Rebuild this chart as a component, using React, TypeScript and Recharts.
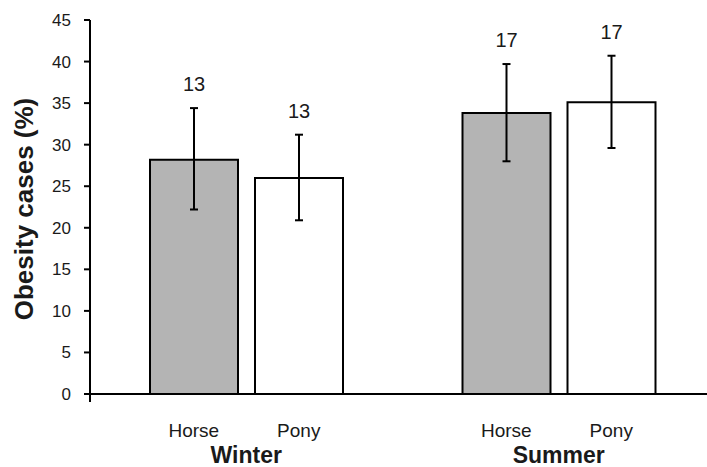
import { BarChart, Bar, XAxis, YAxis, ErrorBar, LabelList } from 'recharts';

const seasons = ['Winter', 'Summer'];
const horseValues = [28.2, 33.8];
const ponyValues = [26.0, 35.1];
const horseErrors: [number, number][] = [[6.0, 6.2], [5.8, 5.9]];
const ponyErrors: [number, number][] = [[5.1, 5.2], [5.5, 5.6]];
const horseCounts = [13, 17];
const ponyCounts = [13, 17];
const yTicks = [0, 5, 10, 15, 20, 25, 30, 35, 40, 45];

const BAR_SIZE = 88;
const BAR_GAP = 17;
const FONT = '"Liberation Sans", Arial, sans-serif';
const TEXT = '#1a1a1a';

const data = seasons.map((season, i) => ({
  season,
  horse: horseValues[i],
  pony: ponyValues[i],
  horseErr: horseErrors[i],
  ponyErr: ponyErrors[i],
  horseN: horseCounts[i],
  ponyN: ponyCounts[i],
}));

// label sits above the top of the error bar
const countLabel = (valueKey: 'horse' | 'pony', errKey: 'horseErr' | 'ponyErr') => (props: any) => {
  const { x, y, width, height, value, index } = props;
  const row = data[index];
  if (!row) return null;
  const perUnit = height / row[valueKey];
  const top = y - row[errKey][1] * perUnit;
  return (
    <text
      x={x + width / 2}
      y={top - 24}
      dy="0.36em"
      textAnchor="middle"
      fontSize={20}
      fontFamily={FONT}
      fill={TEXT}
    >
      {value}
    </text>
  );
};

const SeasonTick = (props: any) => {
  const { x, y, payload } = props;
  const off = BAR_SIZE / 2 + BAR_GAP / 2;
  return (
    <g fontFamily={FONT} fill={TEXT}>
      <text x={x - off} y={y + 43} textAnchor="middle" fontSize={19}>Horse</text>
      <text x={x + off} y={y + 43} textAnchor="middle" fontSize={19}>Pony</text>
      <text x={x} y={y + 69} textAnchor="middle" fontSize={23} fontWeight="bold">{payload.value}</text>
    </g>
  );
};

const YLabel = (props: any) => {
  const vb = props.viewBox || {};
  const cx = 33;
  const cy = (vb.y ?? 20) + (vb.height ?? 374) / 2 + 2;
  return (
    <text
      x={cx}
      y={cy}
      transform={`rotate(-90, ${cx}, ${cy})`}
      textAnchor="middle"
      fontSize={26}
      fontWeight="bold"
      fontFamily={FONT}
      fill={TEXT}
    >
      Obesity cases (%)
    </text>
  );
};

export default function App() {
  return (
    <div style={{ position: 'absolute', left: 0, top: 0, width: 707, height: 467, overflow: 'hidden', background: '#fff' }}>
      <BarChart
        width={716}
        height={467}
        data={data}
        margin={{ top: 20, right: 1, left: 0, bottom: 71 }}
        barGap={BAR_GAP}
      >
        <XAxis
          dataKey="season"
          height={1}
          axisLine={{ stroke: '#000', strokeWidth: 2 }}
          tickLine={false}
          tickSize={0}
          tickMargin={0}
          tick={<SeasonTick />}
          interval={0}
        />
        <XAxis
          xAxisId="edges"
          type="number"
          domain={[0, 2]}
          ticks={[0, 1, 2]}
          allowDataOverflow
          height={1}
          axisLine={false}
          tickLine={{ stroke: '#000', strokeWidth: 2 }}
          tickSize={7}
          tick={() => <g />}
        />
        <YAxis
          width={90}
          domain={[0, 45]}
          ticks={yTicks}
          interval={0}
          axisLine={{ stroke: '#000', strokeWidth: 2 }}
          tickLine={{ stroke: '#000', strokeWidth: 2 }}
          tickSize={6}
          tickMargin={13}
          tick={{ fontSize: 17, fontFamily: FONT, fill: TEXT }}
          label={{ content: YLabel }}
        />
        <Bar dataKey="horse" fill="#b4b4b4" stroke="#000" strokeWidth={2} barSize={BAR_SIZE} isAnimationActive={false}>
          <ErrorBar dataKey="horseErr" direction="y" width={4} stroke="#000" strokeWidth={2} isAnimationActive={false} />
          <LabelList dataKey="horseN" content={countLabel('horse', 'horseErr')} />
        </Bar>
        <Bar dataKey="pony" fill="#ffffff" stroke="#000" strokeWidth={2} barSize={BAR_SIZE} isAnimationActive={false}>
          <ErrorBar dataKey="ponyErr" direction="y" width={4} stroke="#000" strokeWidth={2} isAnimationActive={false} />
          <LabelList dataKey="ponyN" content={countLabel('pony', 'ponyErr')} />
        </Bar>
      </BarChart>
    </div>
  );
}
